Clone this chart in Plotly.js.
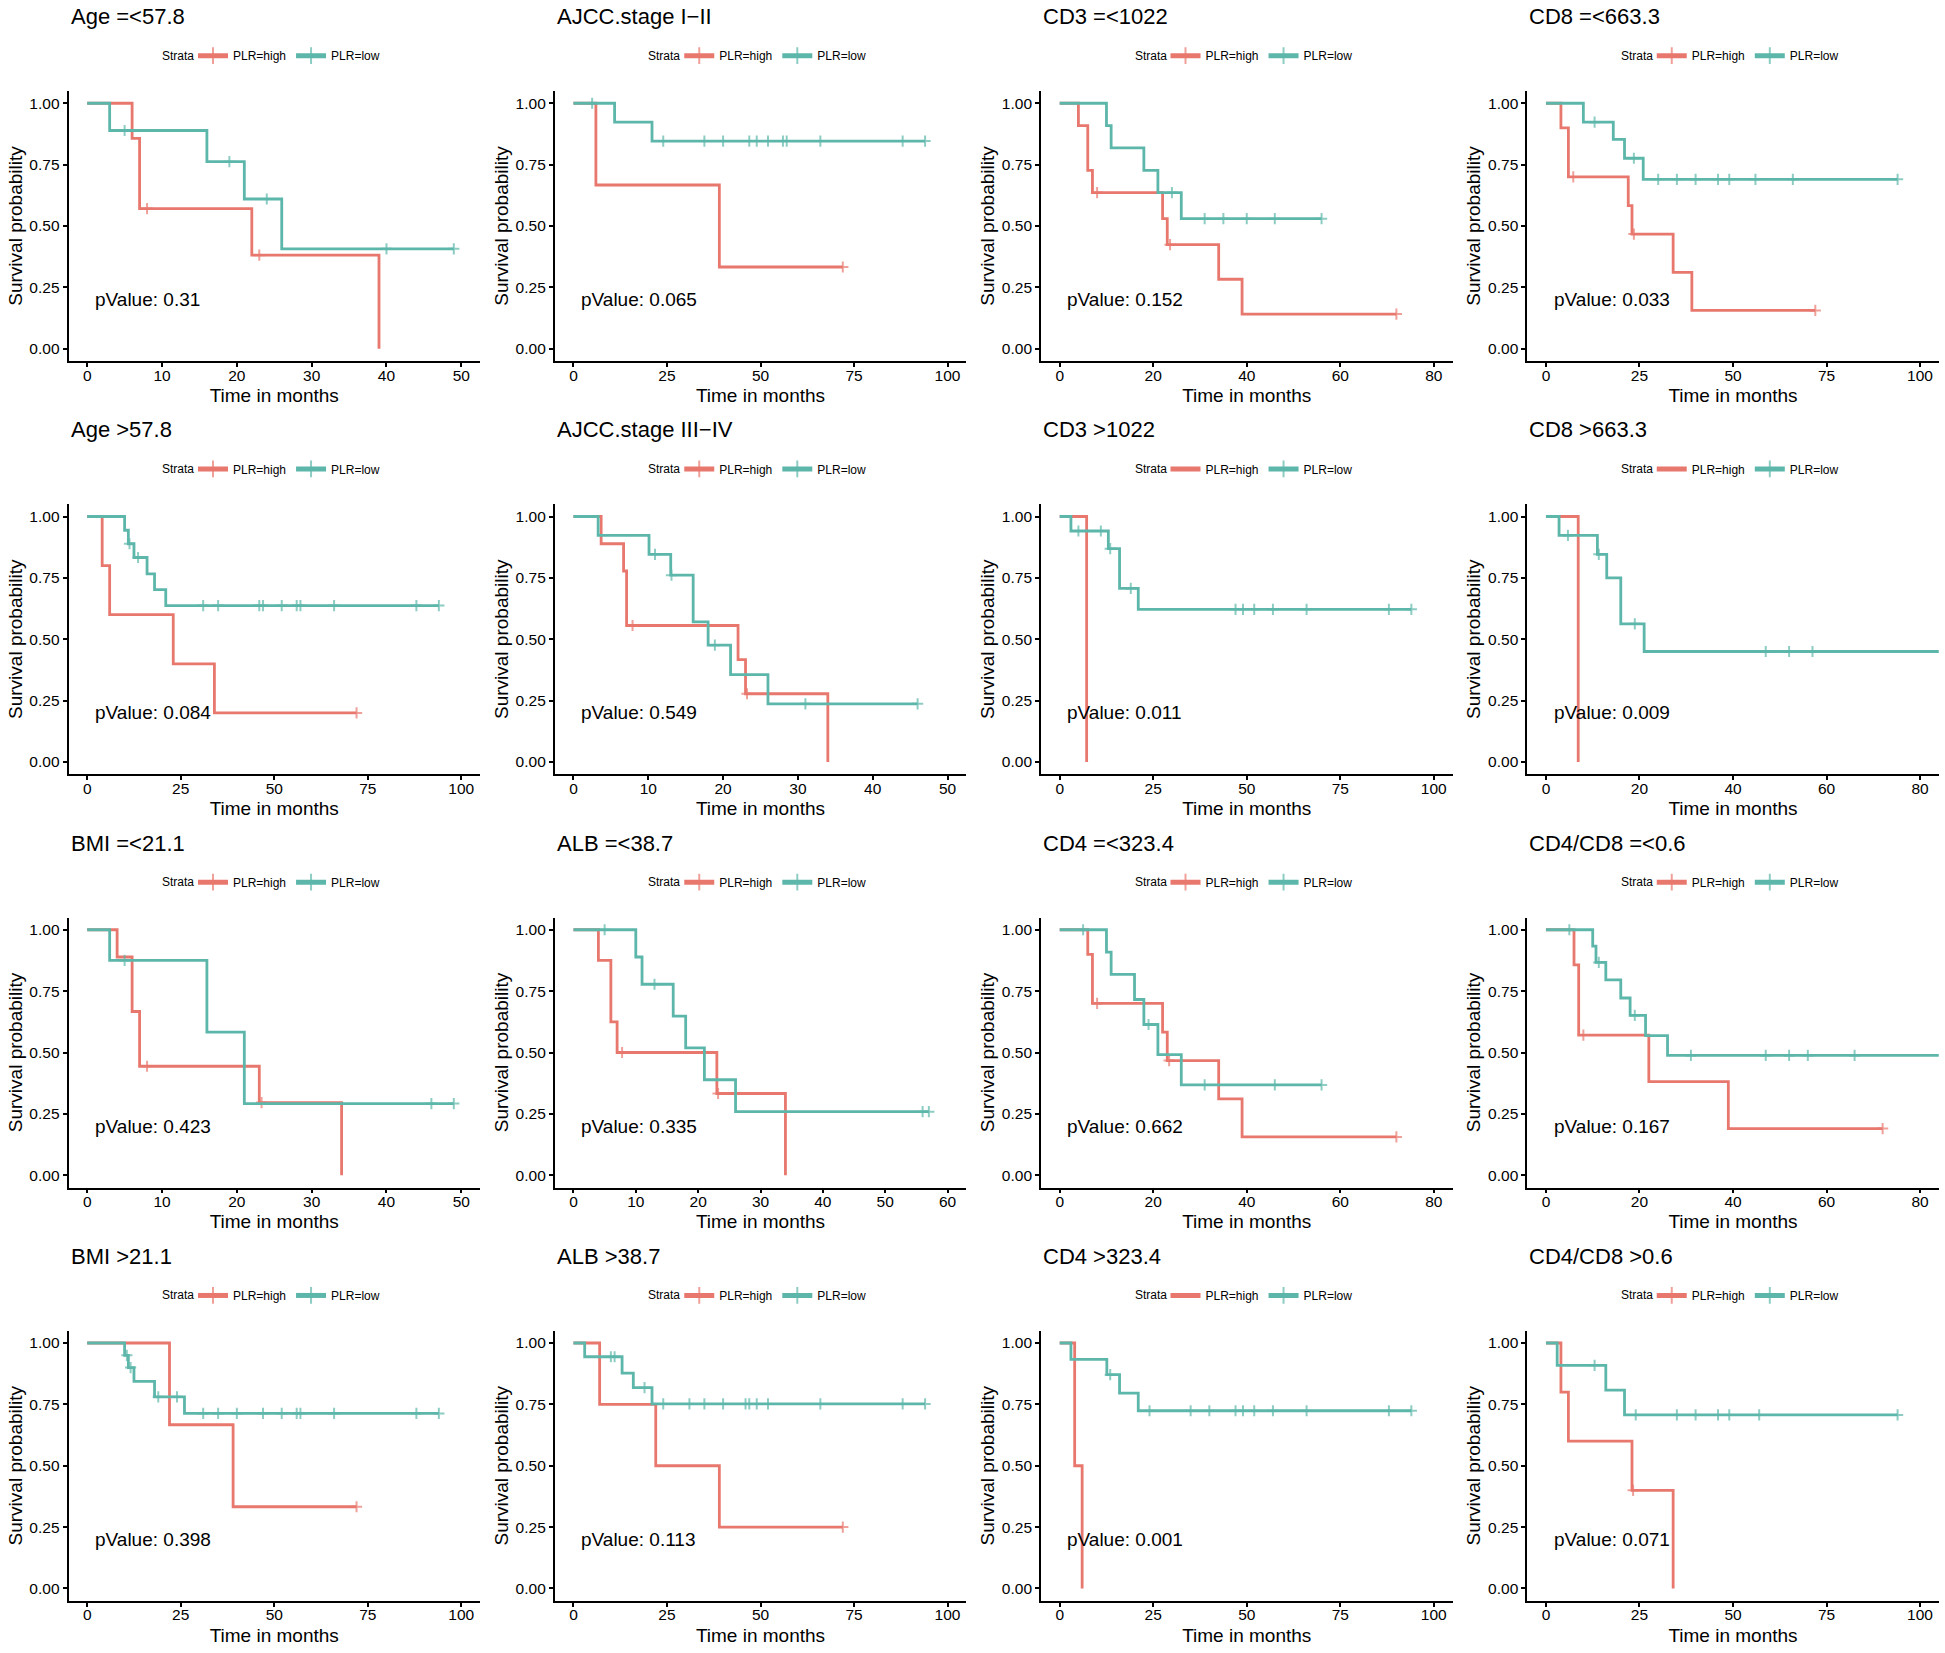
<!DOCTYPE html>
<html><head><meta charset="utf-8">
<script src="https://cdn.plot.ly/plotly-3.0.1.min.js"></script>
<style>html,body{margin:0;padding:0;background:#fff}</style>
</head><body><div id="chart" style="width:1945px;height:1653px"></div>
<script>
// ---------- panel metadata ----------
const panelTitles = ["Age =<57.8","AJCC.stage I\u2212II","CD3 =<1022","CD8 =<663.3",
  "Age >57.8","AJCC.stage III\u2212IV","CD3 >1022","CD8 >663.3",
  "BMI =<21.1","ALB =<38.7","CD4 =<323.4","CD4/CD8 =<0.6",
  "BMI >21.1","ALB >38.7","CD4 >323.4","CD4/CD8 >0.6"];
const pValues = ["0.31","0.065","0.152","0.033","0.084","0.549","0.011","0.009",
  "0.423","0.335","0.662","0.167","0.398","0.113","0.001","0.071"];
const xMaxTick = [50,100,80,100, 100,50,100,80, 50,60,80,80, 100,100,100,100];
const xDtick   = [10,25,20,25, 25,10,25,20, 10,10,20,20, 25,25,25,25];
const groupNames = ["PLR=high","PLR=low"];
const legendTitle = "Strata";
const yTickVals = [0,0.25,0.5,0.75,1];
const yTickText = ["0.00","0.25","0.50","0.75","1.00"];

// ---------- survival data: event times (T), survival (S), censor times (C) ----------
const p1HiT=[0,6,7,22,39], p1HiS=[1,.857,.571,.381,0], p1HiC=[8,23];
const p1LoT=[0,3,16,21,26], p1LoS=[1,.889,.762,.610,.407], p1LoC=[5,19,24,40,49];

const p2HiT=[0,6,39], p2HiS=[1,.667,.333], p2HiC=[72];
const p2LoT=[0,11,21], p2LoS=[1,.923,.846], p2LoC=[5,24,35,40,47,49,52,56,57,66,88,94];

const p3HiT=[0,4,6,7,22,23,34,39], p3HiS=[1,.909,.727,.636,.530,.424,.283,.141], p3HiC=[8,23.6,72];
const p3LoT=[0,10,11,18,21,26], p3LoS=[1,.909,.818,.727,.636,.530], p3LoC=[24,31,35,40,46,56];

const p4HiT=[0,4,6,22,23,34,39], p4HiS=[1,.9,.7,.583,.467,.311,.156], p4HiC=[7.3,23.5,72];
const p4LoT=[0,10,18,21,26], p4LoS=[1,.923,.853,.776,.690], p4LoC=[13,23.5,30,35,40,46,49,56,66,94];

const p5HiT=[0,4,6,23,34], p5HiS=[1,.8,.6,.4,.2], p5HiC=[72];
const p5LoT=[0,10,11,12.5,16,18,21], p5LoS=[1,.944,.889,.833,.766,.702,.637], p5LoC=[11.3,13.6,31,35,46,47,52,56,57,66,88,94];

const p6HiT=[0,3.7,6.7,7.1,22,23,34], p6HiS=[1,.889,.778,.556,.417,.278,0], p6HiC=[7.9,23.2];
const p6LoT=[0,3.3,10.1,13,16,18,21,26], p6LoS=[1,.923,.846,.761,.571,.476,.356,.237], p6LoC=[10.9,13.1,18.9,31,46];

const p7HiT=[0,7.2], p7HiS=[1,0], p7HiC=[];
const p7LoT=[0,3,13,16,21], p7LoS=[1,.941,.869,.707,.622], p7LoC=[5,11,13.5,19,47,49,52,57,66,88,94];

const p8HiT=[0,6.9], p8HiS=[1,0], p8HiC=[];
const p8LoT=[0,2.8,11,13,16,21], p8LoS=[1,.923,.846,.75,.563,.45], p8LoC=[4.7,11.3,19,47,52,57,94];

const p9HiT=[0,4,6,7,23,34], p9HiS=[1,.889,.667,.444,.296,0], p9HiC=[8,23.3];
const p9LoT=[0,3,16,21], p9LoS=[1,.875,.583,.292], p9LoC=[5,46,49];

const p10HiT=[0,4,6,7,23,34], p10HiS=[1,.875,.625,.5,.333,0], p10HiC=[7.8,23.2];
const p10LoT=[0,10,11,16,18,21,26], p10LoS=[1,.889,.778,.648,.519,.389,.259], p10LoC=[5,13,56,57];

const p11HiT=[0,6,7,22,23,34,39], p11HiS=[1,.9,.7,.583,.467,.311,.156], p11HiC=[8,23.4,72];
const p11LoT=[0,10,11,16,18,21,26], p11LoS=[1,.909,.818,.716,.614,.491,.368], p11LoC=[5,19,31,46,56];

const p12HiT=[0,6,7,22,39], p12HiS=[1,.857,.571,.381,.190], p12HiC=[8,72];
const p12LoT=[0,10,10.7,12.8,16,18,21.3,26], p12LoS=[1,.933,.867,.796,.722,.651,.569,.488], p12LoC=[5,11.3,19,31,47,52,56,66,94];

const p13HiT=[0,22,39], p13HiS=[1,.667,.333], p13HiC=[72];
const p13LoT=[0,10,11,12.5,18,26], p13LoS=[1,.95,.90,.844,.781,.713], p13LoC=[10.6,11.6,19,24,31,35,40,47,52,56,57,66,88,94];

const p14HiT=[0,7,22,39], p14HiS=[1,.75,.5,.25], p14HiC=[72];
const p14LoT=[0,3,13,16,21], p14LoS=[1,.944,.877,.818,.752], p14LoC=[10,11,19,24,31,35,40,46,47,49,52,66,88,94];

const p15HiT=[0,4,6], p15HiS=[1,.5,0], p15HiC=[];
const p15LoT=[0,3,12.6,16,21], p15LoS=[1,.933,.871,.796,.724], p15LoC=[13.5,24,35,40,47,49,52,57,66,88,94];

const p16HiT=[0,4,6,23,34], p16HiS=[1,.8,.6,.4,0], p16HiC=[23.3];
const p16LoT=[0,3,16,21], p16LoS=[1,.909,.808,.707], p16LoC=[13,24,35,40,46,49,57,94];

const highData = [[p1HiT,p1HiS,p1HiC],[p2HiT,p2HiS,p2HiC],[p3HiT,p3HiS,p3HiC],[p4HiT,p4HiS,p4HiC],
  [p5HiT,p5HiS,p5HiC],[p6HiT,p6HiS,p6HiC],[p7HiT,p7HiS,p7HiC],[p8HiT,p8HiS,p8HiC],
  [p9HiT,p9HiS,p9HiC],[p10HiT,p10HiS,p10HiC],[p11HiT,p11HiS,p11HiC],[p12HiT,p12HiS,p12HiC],
  [p13HiT,p13HiS,p13HiC],[p14HiT,p14HiS,p14HiC],[p15HiT,p15HiS,p15HiC],[p16HiT,p16HiS,p16HiC]];
const lowData = [[p1LoT,p1LoS,p1LoC],[p2LoT,p2LoS,p2LoC],[p3LoT,p3LoS,p3LoC],[p4LoT,p4LoS,p4LoC],
  [p5LoT,p5LoS,p5LoC],[p6LoT,p6LoS,p6LoC],[p7LoT,p7LoS,p7LoC],[p8LoT,p8LoS,p8LoC],
  [p9LoT,p9LoS,p9LoC],[p10LoT,p10LoS,p10LoC],[p11LoT,p11LoS,p11LoC],[p12LoT,p12LoS,p12LoC],
  [p13LoT,p13LoS,p13LoC],[p14LoT,p14LoS,p14LoC],[p15LoT,p15LoS,p15LoC],[p16LoT,p16LoS,p16LoC]];

// ---------- styling ----------
const colors = ["#E8776D","#5DB6AA"];
const FONT = "'Liberation Sans', Arial, Helvetica, sans-serif";
const W = 1945, H = 1653, cellW = W/4, cellH = H/4;
const plotL = 68.5, plotR = 480, plotT = 91, plotB = 361;

function buildCurve(T, S, C) {
  const pts = [];
  T.forEach((t,i) => pts.push({x:t, y:S[i], c:0}));
  C.forEach(t => {
    let s = S[0];
    for (let i=0;i<T.length;i++) if (T[i] <= t) s = S[i];
    pts.push({x:t, y:s, c:1});
  });
  pts.sort((a,b) => a.x - b.x || a.c - b.c);
  return {x: pts.map(p=>p.x), y: pts.map(p=>p.y), size: pts.map(p=>p.c ? 8 : 0)};
}

const traces = [];
const layout = {
  width: W, height: H, margin: {l:0,r:0,t:0,b:0},
  paper_bgcolor: "#fff", plot_bgcolor: "#fff",
  font: {family: FONT, color: "#000"},
  showlegend: true, annotations: []
};

for (let i=0;i<16;i++) {
  const r = Math.floor(i/4), c = i%4;
  const k = i===0 ? "" : String(i+1);
  const xa = "xaxis"+k, ya = "yaxis"+k, xid = "x"+k, yid = "y"+k;
  const lg = "legend"+k;
  const M = xMaxTick[i];
  const xd = [(c*cellW+plotL)/W, (c*cellW+plotR)/W];
  const yd = [1-(r*cellH+plotB)/H, 1-(r*cellH+plotT)/H];
  const legY = 1-(r*cellH+55.7)/H;

  [highData[i], lowData[i]].forEach((g, gi) => {
    const cv = buildCurve(g[0], g[1], g[2]);
    traces.push({
      type: "scatter", mode: "lines+markers", name: groupNames[gi],
      x: cv.x, y: cv.y, xaxis: xid, yaxis: yid, legend: lg,
      line: {shape: "hv", color: colors[gi], width: 2.8},
      marker: {symbol: "cross-thin-open", size: cv.size, color: colors[gi],
               line: {color: colors[gi], width: 2}},
      hoverinfo: "x+y", cliponaxis: true
    });
  });

  layout[xa] = {
    domain: xd, anchor: yid, range: [-0.05*M, 1.05*M],
    tickmode: "linear", tick0: 0, dtick: xDtick[i],
    showline: true, linecolor: "#000", linewidth: 1.8,
    ticks: "outside", ticklen: 4, tickwidth: 1.5, tickcolor: "#000",
    ticklabelstandoff: -5,
    showgrid: false, zeroline: false,
    tickfont: {size: 15.5, color: "#000", family: FONT},
    title: {text: "Time in months", font: {size: 19, color: "#000", family: FONT}, standoff: 6}
  };
  layout[ya] = {
    domain: yd, anchor: xid, range: [-0.05, 1.05],
    tickmode: "array", tickvals: yTickVals, ticktext: yTickText,
    showline: true, linecolor: "#000", linewidth: 1.8,
    ticks: "outside", ticklen: 4, tickwidth: 1.5, tickcolor: "#000",
    showgrid: false, zeroline: false,
    tickfont: {size: 15.5, color: "#000", family: FONT},
    title: {text: "Survival probability", font: {size: 19, color: "#000", family: FONT}, standoff: 2}
  };
  layout[lg] = {
    orientation: "h", x: (c*cellW+193)/W, xanchor: "left",
    y: legY, yanchor: "middle",
    font: {size: 12, color: "#000", family: FONT},
    bgcolor: "rgba(0,0,0,0)", itemsizing: "constant", itemwidth: 30,
    tracegroupgap: 0
  };
  layout.annotations.push({
    xref: "paper", yref: "paper", x: (c*cellW+196)/W, y: legY,
    xanchor: "right", yanchor: "middle", showarrow: false,
    text: legendTitle, font: {size: 12, color: "#000", family: FONT}
  });
  layout.annotations.push({
    xref: xid+" domain", yref: "paper", x: 0, y: 1-(r*cellH+16.5)/H,
    xanchor: "left", yanchor: "middle", showarrow: false,
    text: panelTitles[i], font: {size: 22, color: "#000", family: FONT}
  });
  layout.annotations.push({
    xref: xid+" domain", yref: yid, x: 0.059, y: 0.2,
    xanchor: "left", yanchor: "middle", showarrow: false,
    text: "pValue: " + pValues[i], font: {size: 19, color: "#000", family: FONT}
  });
}

Plotly.newPlot("chart", traces, layout, {displayModeBar: false, responsive: false});
</script></body></html>
